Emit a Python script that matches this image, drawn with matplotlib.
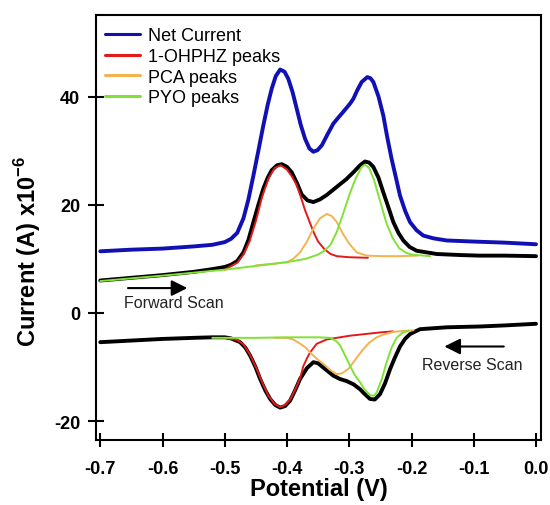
import matplotlib.pyplot as plt

plt.rcParams["font.family"] = ["Liberation Sans", "DejaVu Sans"]
plt.rcParams["axes.unicode_minus"] = False
plt.rcParams["mathtext.fontset"] = "custom"
plt.rcParams["mathtext.rm"] = "Liberation Sans"
plt.rcParams["mathtext.bf"] = "Liberation Sans:bold"
plt.rcParams["lines.solid_joinstyle"] = "round"
plt.rcParams["lines.solid_capstyle"] = "round"

# Net current (forward scan)
net_x = [-0.700, -0.650, -0.600, -0.550, -0.520, -0.500, -0.490, -0.480, -0.470, -0.462,
         -0.454, -0.446, -0.438, -0.431, -0.4245, -0.418, -0.411, -0.404, -0.398, -0.391,
         -0.3845, -0.378, -0.371, -0.364, -0.3576, -0.351, -0.344, -0.335, -0.3256, -0.317,
         -0.3095, -0.2987, -0.2934, -0.287, -0.280, -0.271, -0.266, -0.2613, -0.253, -0.2453,
         -0.239, -0.232, -0.225, -0.2185, -0.210, -0.2024, -0.192, -0.181, -0.165, -0.1435,
         -0.100, -0.050, 0.000]
net_y = [11.4, 11.7, 11.9, 12.3, 12.6, 13.1, 13.7, 14.8, 17.5, 21.0,
         25.4, 30.0, 34.7, 38.5, 41.5, 43.8, 45.0, 44.6, 43.3, 40.8,
         37.8, 34.8, 32.2, 30.4, 29.8, 30.1, 31.0, 33.0, 35.0, 36.2,
         37.2, 38.7, 39.6, 41.2, 42.7, 43.6, 43.4, 42.7, 40.0, 36.5,
         32.5, 28.5, 25.0, 21.7, 18.8, 16.8, 15.3, 14.3, 13.8, 13.4,
         13.2, 13.0, 12.7]

# black curve, forward scan
fwd_x = [-0.700, -0.650, -0.600, -0.550, -0.520, -0.500, -0.490, -0.480, -0.470, -0.462,
         -0.454, -0.446, -0.438, -0.431, -0.4245, -0.416, -0.4083, -0.400, -0.3924, -0.384,
         -0.3764, -0.367, -0.3576, -0.347, -0.3363, -0.3255, -0.3148, -0.305, -0.2934, -0.2827,
         -0.2747, -0.268, -0.2613, -0.253, -0.2453, -0.237, -0.2292, -0.221, -0.2132, -0.203,
         -0.1917, -0.1596, -0.120, -0.090, -0.050, 0.000]
fwd_y = [6.0, 6.5, 7.0, 7.6, 8.1, 8.5, 8.9, 9.6, 11.2, 13.5,
         16.8, 20.0, 23.0, 25.0, 26.4, 27.3, 27.5, 27.0, 26.0, 24.0,
         21.9, 20.8, 20.5, 21.0, 21.8, 22.8, 23.8, 24.7, 26.0, 27.3,
         28.0, 27.8, 27.0, 25.0, 22.3, 19.5, 16.8, 14.8, 13.4, 12.2,
         11.5, 10.9, 10.7, 10.6, 10.6, 10.5]

# black curve, reverse scan
rev_x = [-0.700, -0.650, -0.600, -0.550, -0.520, -0.500, -0.490, -0.4753, -0.467, -0.4592,
         -0.451, -0.4432, -0.435, -0.4271, -0.419, -0.4111, -0.403, -0.395, -0.387, -0.379,
         -0.368, -0.3576, -0.350, -0.3416, -0.3255, -0.315, -0.304, -0.293, -0.2827, -0.275,
         -0.2666, -0.259, -0.2506, -0.2425, -0.2345, -0.2265, -0.2185, -0.2104, -0.2024, -0.1864,
         -0.1435, -0.090, -0.050, 0.000]
rev_y = [-5.4, -5.1, -4.8, -4.6, -4.5, -4.5, -4.7, -5.4, -6.4, -7.9,
         -9.9, -12.2, -14.3, -15.9, -17.0, -17.5, -17.2, -16.2, -14.3, -12.2,
         -10.2, -9.1, -9.3, -10.1, -11.6, -12.2, -12.6, -13.2, -14.1, -15.0,
         -15.9, -16.0, -15.0, -13.0, -10.4, -8.2, -6.2, -4.8, -3.9, -3.0,
         -2.65, -2.5, -2.3, -2.0]

# 1-OHPHZ fitted peaks
ohphz_fx = [-0.500, -0.480, -0.470, -0.460, -0.450, -0.440, -0.430, -0.420, -0.410, -0.400,
            -0.392, -0.385, -0.378, -0.371, -0.363, -0.356, -0.350, -0.340, -0.330, -0.320,
            -0.300, -0.270]
ohphz_fy = [8.0, 9.3, 10.8, 13.3, 17.0, 21.5, 24.8, 26.8, 27.3, 26.5,
            25.2, 23.8, 21.5, 19.0, 16.6, 14.6, 13.2, 11.8, 10.9, 10.5,
            10.3, 10.2]
ohphz_rx = [-0.500, -0.480, -0.470, -0.460, -0.450, -0.440, -0.430, -0.420, -0.411, -0.403,
            -0.395, -0.387, -0.379, -0.3737, -0.368, -0.363, -0.3523, -0.3363, -0.2987, -0.2506,
            -0.230]
ohphz_ry = [-4.6, -5.0, -5.8, -7.6, -10.0, -12.8, -15.3, -16.8, -17.4, -17.0,
            -16.0, -14.2, -12.1, -9.8, -8.4, -7.3, -5.7, -4.9, -4.2, -3.6,
            -3.4]

# PCA fitted peaks
pca_fx = [-0.450, -0.420, -0.400, -0.390, -0.379, -0.368, -0.3576, -0.347, -0.336, -0.328,
          -0.320, -0.310, -0.300, -0.288, -0.272, -0.250, -0.220, -0.190]
pca_fy = [8.8, 9.1, 9.4, 10.0, 11.2, 13.2, 15.6, 17.5, 18.3, 17.9,
          16.8, 14.6, 12.8, 11.2, 10.6, 10.5, 10.5, 10.6]
pca_rx = [-0.420, -0.400, -0.390, -0.380, -0.370, -0.363, -0.352, -0.3416, -0.330, -0.3202,
          -0.312, -0.300, -0.2934, -0.285, -0.2774, -0.268, -0.2559, -0.245, -0.229, -0.210,
          -0.197]
pca_ry = [-4.6, -4.6, -4.9, -5.6, -6.4, -7.3, -8.5, -9.4, -10.6, -11.3,
          -11.2, -10.2, -9.1, -7.8, -6.7, -5.5, -4.5, -4.0, -3.5, -3.3,
          -3.2]

# PYO fitted peaks
pyo_fx = [-0.700, -0.600, -0.500, -0.450, -0.400, -0.370, -0.350, -0.340, -0.330, -0.320,
          -0.310, -0.300, -0.290, -0.280, -0.275, -0.268, -0.260, -0.250, -0.240, -0.230,
          -0.220, -0.210, -0.200, -0.180, -0.170]
pyo_fy = [5.9, 6.9, 8.0, 8.7, 9.4, 10.0, 10.8, 11.5, 12.6, 15.0,
          18.3, 21.8, 24.8, 27.0, 27.4, 26.8, 24.5, 20.5, 16.5, 13.8,
          12.0, 11.2, 10.8, 10.6, 10.5]
pyo_rx = [-0.520, -0.450, -0.400, -0.350, -0.330, -0.320, -0.3148, -0.307, -0.2987, -0.291,
          -0.2827, -0.275, -0.2666, -0.260, -0.2559, -0.248, -0.240, -0.232, -0.224, -0.215,
          -0.205]
pyo_ry = [-4.6, -4.6, -4.5, -4.5, -4.6, -5.3, -6.0, -7.8, -9.8, -11.5,
          -12.8, -14.2, -15.2, -15.3, -14.7, -12.3, -9.1, -6.4, -4.6, -3.7,
          -3.3]

xticks = [-0.7, -0.6, -0.5, -0.4, -0.3, -0.2, -0.1, 0.0]
xtick_labels = ["-0.7", "-0.6", "-0.5", "-0.4", "-0.3", "-0.2", "-0.1", "0.0"]
yticks = [-20, 0, 20, 40]

blue = "#1010b4"
red = "#e31a1a"
orange = "#f2b350"
green = "#80e236"

fig = plt.figure(figsize=(5.5, 5.06), dpi=100)
ax = fig.add_axes([0.1745, 0.1285, 0.8091, 0.8405])

ax.plot(net_x, net_y, color=blue, lw=2.8, label="Net Current")
ax.plot(fwd_x, fwd_y, color="black", lw=2.8)
ax.plot(rev_x, rev_y, color="black", lw=2.8)
ax.plot(ohphz_fx, ohphz_fy, color=red, lw=1.4, label="1-OHPHZ peaks")
ax.plot(ohphz_rx, ohphz_ry, color=red, lw=1.4)
ax.plot(pca_fx, pca_fy, color=orange, lw=1.4, label="PCA peaks")
ax.plot(pca_rx, pca_ry, color=orange, lw=1.4)
ax.plot(pyo_fx, pyo_fy, color=green, lw=1.4, label="PYO peaks")
ax.plot(pyo_rx, pyo_ry, color=green, lw=1.4)

# scan direction arrows
ax.annotate("", xy=(-0.5556, 4.6), xytext=(-0.6599, 4.6),
            arrowprops=dict(arrowstyle="-|>", color="black", lw=1.5, mutation_scale=24))
ax.text(-0.6626, 1.85, "Forward Scan", fontsize=11.5, color="#222222", va="center", ha="left")
ax.annotate("", xy=(-0.1517, -6.2), xytext=(-0.0473, -6.2),
            arrowprops=dict(arrowstyle="-|>", color="black", lw=1.5, mutation_scale=24))
ax.text(-0.1838, -9.45, "Reverse Scan", fontsize=11.5, color="#222222", va="center", ha="left")

ax.set_xlim(-0.7069, 0.008)
ax.set_ylim(-23.48, 55.14)
ax.set_xticks(xticks)
ax.set_xticklabels(xtick_labels)
ax.set_yticks(yticks)
for lab in ax.get_xticklabels() + ax.get_yticklabels():
    lab.set_fontweight("bold")
ax.tick_params(axis="x", direction="inout", length=10, width=1.5, pad=9.5, labelsize=13)
ax.tick_params(axis="y", direction="inout", length=11, width=1.5, pad=6, labelsize=13)
for sp in ax.spines.values():
    sp.set_linewidth(1.5)

ax.set_xlabel("Potential (V)", fontsize=17, fontweight="bold")
ax.set_ylabel(r"Current (A) x10$^{\mathbf{-6}}$", fontsize=17, fontweight="bold")
ax.xaxis.set_label_coords(0.5, -0.087)
ax.yaxis.set_label_coords(-0.119, 0.445)

leg = ax.legend(loc="upper left", bbox_to_anchor=(0.02, 0.970), frameon=False,
                fontsize=13, handlelength=1.95, handletextpad=0.45, labelspacing=0.2,
                borderpad=0, borderaxespad=0)
for ln in leg.get_lines():
    ln.set_linewidth(2.2)

fig.savefig("out.png", dpi=100)
